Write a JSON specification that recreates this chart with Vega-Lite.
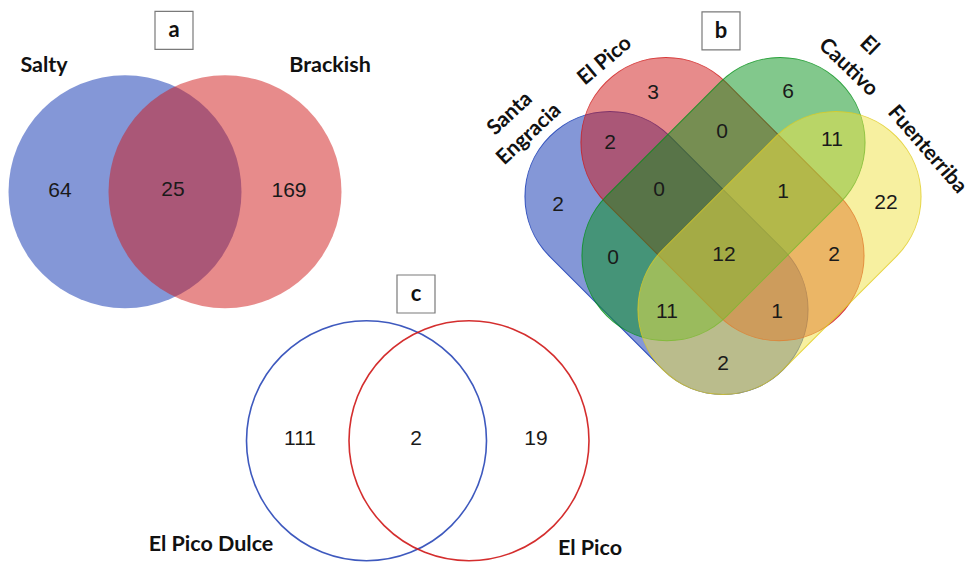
{
  "$schema": "https://vega.github.io/schema/vega-lite/v6.json",
  "width": 978,
  "height": 564,
  "autosize": {"type": "fit", "contains": "padding"},
  "padding": 0,
  "background": "white",
  "config": {"view": {"stroke": null}},
  "datasets": {
    "sets": [
      {"panel": "a", "set": "Salty", "x": 125, "y": 192, "lx": 44, "ly": 66},
      {"panel": "a", "set": "Brackish", "x": 225, "y": 192, "lx": 330, "ly": 66},
      {"panel": "b", "set": "Santa Engracia", "x": 666.5, "y": 253.5, "lx": 510, "ly": 114},
      {"panel": "b", "set": "El Pico", "x": 722.5, "y": 199.5, "lx": 605, "ly": 61},
      {"panel": "b", "set": "El Cautivo", "x": 723.5, "y": 199.5, "lx": 869, "ly": 46},
      {"panel": "b", "set": "Fuenterriba", "x": 779.5, "y": 253.5, "lx": 927, "ly": 150},
      {"panel": "c", "set": "El Pico Dulce", "x": 366.5, "y": 441.5, "lx": 211, "ly": 546},
      {"panel": "c", "set": "El Pico", "x": 469, "y": 441.5, "lx": 590, "ly": 550}
    ],
    "counts": [
      {"panel": "a", "region": "Salty only", "n": 64, "x": 60, "y": 191},
      {"panel": "a", "region": "Salty & Brackish", "n": 25, "x": 173, "y": 190},
      {"panel": "a", "region": "Brackish only", "n": 169, "x": 289, "y": 191},
      {"panel": "b", "region": "Santa Engracia only", "n": 2, "x": 558, "y": 205},
      {"panel": "b", "region": "El Pico only", "n": 3, "x": 653, "y": 93},
      {"panel": "b", "region": "El Cautivo only", "n": 6, "x": 788, "y": 92},
      {"panel": "b", "region": "Fuenterriba only", "n": 22, "x": 886, "y": 203},
      {"panel": "b", "region": "SE & EP", "n": 2, "x": 610, "y": 143},
      {"panel": "b", "region": "EP & EC", "n": 0, "x": 722, "y": 132},
      {"panel": "b", "region": "EC & F", "n": 11, "x": 832, "y": 140},
      {"panel": "b", "region": "SE & EP & EC", "n": 0, "x": 659, "y": 190},
      {"panel": "b", "region": "EP & EC & F", "n": 1, "x": 783, "y": 192},
      {"panel": "b", "region": "SE & EC", "n": 0, "x": 613, "y": 258},
      {"panel": "b", "region": "all four", "n": 12, "x": 724, "y": 255},
      {"panel": "b", "region": "EP & F", "n": 2, "x": 834, "y": 255},
      {"panel": "b", "region": "SE & EC & F", "n": 11, "x": 667, "y": 313},
      {"panel": "b", "region": "SE & EP & F", "n": 1, "x": 777, "y": 313},
      {"panel": "b", "region": "SE & F", "n": 2, "x": 723, "y": 365},
      {"panel": "c", "region": "El Pico Dulce only", "n": 111, "x": 300, "y": 440},
      {"panel": "c", "region": "El Pico Dulce & El Pico", "n": 2, "x": 416, "y": 440},
      {"panel": "c", "region": "El Pico only", "n": 19, "x": 536, "y": 440}
    ],
    "panels": [
      {"panel": "a", "x": 174, "y": 30.5},
      {"panel": "b", "x": 721, "y": 31},
      {"panel": "c", "x": 416, "y": 294.5}
    ]
  },
  "encoding": {
    "x": {"field": "x", "type": "quantitative", "scale": {"domain": [0, 978], "nice": false, "zero": false}, "axis": null},
    "y": {"field": "y", "type": "quantitative", "scale": {"domain": [0, 564], "reverse": true, "nice": false, "zero": false}, "axis": null}
  },
  "layer": [
    {
      "data": {"name": "sets"},
      "transform": [{"filter": "datum.panel == 'a'"}],
      "mark": {"type": "point", "shape": "circle", "filled": true, "size": 54289, "fillOpacity": 0.5, "strokeWidth": 0},
      "encoding": {
        "color": {"field": "set", "type": "nominal", "legend": null,
          "scale": {"domain": ["Salty", "Brackish", "Santa Engracia", "El Pico", "El Cautivo", "Fuenterriba", "El Pico Dulce"],
                    "range": ["#0a30b0", "#d01818", "#0a30b0", "#d01818", "#059119", "#f0e141", "#2a48b8"]}}
      }
    },
    {
      "data": {"name": "sets"},
      "transform": [{"filter": "datum.panel == 'b' && (datum.set == 'Santa Engracia' || datum.set == 'El Pico')"}],
      "mark": {"type": "point", "filled": true, "size": 108900, "angle": 45, "fillOpacity": 0.5, "strokeOpacity": 0.8, "strokeWidth": 1,
        "shape": "M -0.48485 -0.51515 L 0.48485 -0.51515 A 0.51515 0.51515 0 0 1 0.48485 0.51515 L -0.48485 0.51515 A 0.51515 0.51515 0 0 1 -0.48485 -0.51515 Z"},
      "encoding": {
        "color": {"field": "set", "type": "nominal", "legend": null},
        "stroke": {"field": "set", "type": "nominal", "legend": null,
          "scale": {"domain": ["Santa Engracia", "El Pico", "El Cautivo", "Fuenterriba"], "range": ["#0a30b0", "#d01818", "#059119", "#e0cc20"]}}
      }
    },
    {
      "data": {"name": "sets"},
      "transform": [{"filter": "datum.panel == 'b' && (datum.set == 'El Cautivo' || datum.set == 'Fuenterriba')"}],
      "mark": {"type": "point", "filled": true, "size": 108900, "angle": -45, "fillOpacity": 0.5, "strokeOpacity": 0.8, "strokeWidth": 1,
        "shape": "M -0.48485 -0.51515 L 0.48485 -0.51515 A 0.51515 0.51515 0 0 1 0.48485 0.51515 L -0.48485 0.51515 A 0.51515 0.51515 0 0 1 -0.48485 -0.51515 Z"},
      "encoding": {
        "color": {"field": "set", "type": "nominal", "legend": null},
        "stroke": {"field": "set", "type": "nominal", "legend": null}
      }
    },
    {
      "data": {"name": "sets"},
      "transform": [{"filter": "datum.panel == 'c'"}],
      "mark": {"type": "point", "shape": "circle", "filled": false, "size": 57600, "strokeWidth": 1.6, "opacity": 0.9},
      "encoding": {
        "color": {"field": "set", "type": "nominal", "legend": null}
      }
    },
    {
      "data": {"name": "panels"},
      "mark": {"type": "point", "shape": "square", "filled": false, "size": 1444, "stroke": "#7a7a7a", "strokeWidth": 1.2, "opacity": 1}
    },
    {
      "data": {"name": "panels"},
      "mark": {"type": "text", "font": "Lato", "fontWeight": "bold", "fontSize": 22, "align": "center", "baseline": "middle", "color": "#111111"},
      "encoding": {"text": {"field": "panel", "type": "nominal"}}
    },
    {
      "data": {"name": "counts"},
      "mark": {"type": "text", "font": "Liberation Sans", "fontSize": 21, "align": "center", "baseline": "middle", "color": "#1a1a1a"},
      "encoding": {"text": {"field": "n", "type": "quantitative"}}
    },
    {
      "data": {"name": "sets"},
      "transform": [{"filter": "datum.panel != 'b'"}],
      "mark": {"type": "text", "font": "Lato", "fontWeight": "bold", "fontSize": 21.5, "align": "center", "baseline": "middle", "color": "#111111"},
      "encoding": {
        "x": {"field": "lx", "type": "quantitative"},
        "y": {"field": "ly", "type": "quantitative"},
        "text": {"field": "set", "type": "nominal"}
      }
    },
    {
      "data": {"name": "sets"},
      "transform": [{"filter": "datum.set == 'Santa Engracia'"}],
      "mark": {"type": "text", "font": "Lato", "fontWeight": "bold", "fontSize": 21, "align": "center", "baseline": "middle", "angle": -43, "lineBreak": " ", "lineHeight": 28, "color": "#111111"},
      "encoding": {
        "x": {"field": "lx", "type": "quantitative"},
        "y": {"field": "ly", "type": "quantitative"},
        "text": {"field": "set", "type": "nominal"}
      }
    },
    {
      "data": {"name": "sets"},
      "transform": [{"filter": "datum.set == 'El Pico' && datum.panel == 'b'"}],
      "mark": {"type": "text", "font": "Lato", "fontWeight": "bold", "fontSize": 21, "align": "center", "baseline": "middle", "angle": -40, "color": "#111111"},
      "encoding": {
        "x": {"field": "lx", "type": "quantitative"},
        "y": {"field": "ly", "type": "quantitative"},
        "text": {"field": "set", "type": "nominal"}
      }
    },
    {
      "data": {"name": "sets"},
      "transform": [{"filter": "datum.set == 'El Cautivo'"}],
      "mark": {"type": "text", "font": "Lato", "fontWeight": "bold", "fontSize": 21, "align": "center", "baseline": "middle", "angle": 44, "lineBreak": " ", "lineHeight": 30, "color": "#111111"},
      "encoding": {
        "x": {"field": "lx", "type": "quantitative"},
        "y": {"field": "ly", "type": "quantitative"},
        "text": {"field": "set", "type": "nominal"}
      }
    },
    {
      "data": {"name": "sets"},
      "transform": [{"filter": "datum.set == 'Fuenterriba'"}],
      "mark": {"type": "text", "font": "Lato", "fontWeight": "bold", "fontSize": 21, "align": "center", "baseline": "middle", "angle": 49, "color": "#111111"},
      "encoding": {
        "x": {"field": "lx", "type": "quantitative"},
        "y": {"field": "ly", "type": "quantitative"},
        "text": {"field": "set", "type": "nominal"}
      }
    }
  ]
}
